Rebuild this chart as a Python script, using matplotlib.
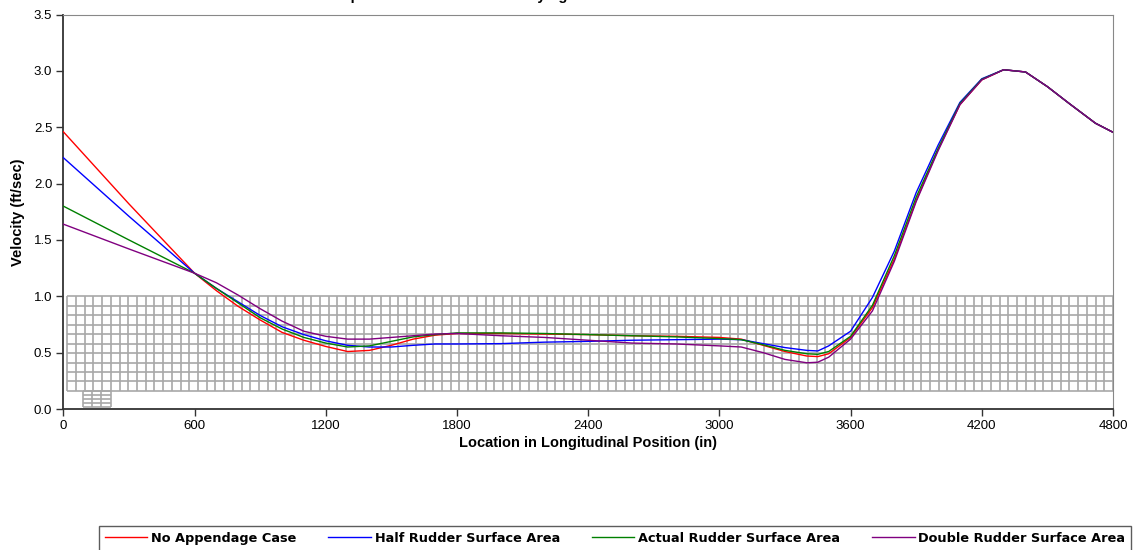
import matplotlib
matplotlib.use("Agg")
import matplotlib.pyplot as plt
import numpy as np

# longitudinal location (in)
location = [0, 300, 600, 700, 800, 900, 1000, 1100, 1200, 1300, 1400, 1500, 1600, 1700,
            1800, 2000, 2200, 2400, 2600, 2800, 3000, 3100, 3200, 3300, 3400, 3450, 3500,
            3600, 3700, 3800, 3900, 4000, 4100, 4200, 4300, 4400, 4500, 4600, 4720, 4800]

# velocity (ft/sec) per case
no_appendage = [2.46, 1.82, 1.205, 1.05, 0.91, 0.79, 0.68, 0.61, 0.555, 0.51, 0.52, 0.565, 0.62, 0.655,
                0.67, 0.67, 0.665, 0.66, 0.65, 0.645, 0.635, 0.62, 0.565, 0.51, 0.47, 0.465, 0.49,
                0.635, 0.90, 1.33, 1.85, 2.30, 2.70, 2.92, 3.01, 2.99, 2.86, 2.71, 2.535, 2.455]
half_rudder = [2.23, 1.71, 1.205, 1.07, 0.95, 0.83, 0.73, 0.66, 0.605, 0.565, 0.55, 0.55, 0.565, 0.577,
               0.577, 0.58, 0.593, 0.60, 0.61, 0.615, 0.62, 0.615, 0.58, 0.545, 0.52, 0.515, 0.56,
               0.69, 0.99, 1.40, 1.92, 2.34, 2.72, 2.93, 3.01, 2.99, 2.86, 2.71, 2.535, 2.455]
actual_rudder = [1.80, 1.50, 1.205, 1.07, 0.94, 0.81, 0.71, 0.635, 0.585, 0.55, 0.56, 0.60, 0.64, 0.66,
                 0.675, 0.675, 0.67, 0.66, 0.65, 0.64, 0.625, 0.615, 0.57, 0.52, 0.49, 0.485, 0.51,
                 0.645, 0.92, 1.36, 1.88, 2.31, 2.71, 2.925, 3.01, 2.99, 2.86, 2.71, 2.535, 2.455]
double_rudder = [1.64, 1.42, 1.205, 1.12, 1.01, 0.89, 0.78, 0.69, 0.645, 0.62, 0.62, 0.635, 0.65, 0.665,
                 0.67, 0.65, 0.635, 0.61, 0.585, 0.577, 0.56, 0.55, 0.50, 0.44, 0.41, 0.415, 0.46,
                 0.62, 0.87, 1.31, 1.84, 2.29, 2.70, 2.92, 3.01, 2.99, 2.86, 2.71, 2.535, 2.455]

series_names = ["No Appendage Case", "Half Rudder Surface Area",
                "Actual Rudder Surface Area", "Double Rudder Surface Area"]
series_colors = ["#ff0000", "#0000ff", "#008000", "#800080"]

x_ticks = [0, 600, 1200, 1800, 2400, 3000, 3600, 4200, 4800]
y_ticks = [0.0, 0.5, 1.0, 1.5, 2.0, 2.5, 3.0, 3.5]

plt.rcParams["font.family"] = ["Liberation Sans", "DejaVu Sans"]

fig = plt.figure(figsize=(11.37, 5.5), dpi=100)
ax = fig.add_axes([63.3 / 1137, 1 - 409 / 550, (1113 - 63.3) / 1137, (409 - 14.5) / 550])

# stray table-like grid sitting behind the lines
gx = np.linspace(18, 4800, 121)
gy = np.linspace(0.16, 1.0, 11)
ax.vlines(gx, gy[0], gy[-1], color="#a8a8a8", lw=1.2, zorder=1)
ax.hlines(gy, gx[0], gx[-1], color="#a8a8a8", lw=1.2, zorder=1)
sx = np.linspace(91, 216, 4)
sy = np.linspace(0.018, 0.16, 5)
ax.vlines(sx, sy[0], sy[-1], color="#a8a8a8", lw=1.2, zorder=1)
ax.hlines(sy, sx[0], sx[-1], color="#a8a8a8", lw=1.2, zorder=1)

for vals, name, col in zip([no_appendage, half_rudder, actual_rudder, double_rudder],
                           series_names, series_colors):
    ax.plot(location, vals, color=col, lw=1.0, label=name, zorder=3)

ax.set_xlim(0, 4800)
ax.set_ylim(0, 3.5)
ax.set_xticks(x_ticks)
ax.set_yticks(y_ticks)
ax.set_yticklabels(["%.1f" % v for v in y_ticks])
ax.tick_params(axis="both", direction="out", length=5, width=1, color="#333333",
               labelsize=9.5, pad=3)
ax.spines["left"].set_color("#333333")
ax.spines["bottom"].set_color("#333333")
ax.spines["left"].set_linewidth(1.3)
ax.spines["bottom"].set_linewidth(1.3)
ax.spines["top"].set_color("#888888")
ax.spines["right"].set_color("#888888")

ax.set_xlabel("Location in Longitudinal Position (in)", fontsize=10.5, fontweight="bold", labelpad=3)
ax.set_ylabel("Velocity (ft/sec)", fontsize=10.5, fontweight="bold", labelpad=6)

# title sits mostly above the visible area, as in the original
fig.text(318 / 1137, 1.0, "Comparison of Velocities at Varying Rudder Areas",
         fontsize=10.5, fontweight="bold", ha="left", va="baseline")

leg = fig.legend(loc="upper left", bbox_to_anchor=(99 / 1137, 1 - 526 / 550), ncol=4,
                 frameon=True, fancybox=False, edgecolor="#333333",
                 prop={"family": "DejaVu Sans", "weight": "bold", "size": 9.3},
                 handlelength=3.3, handletextpad=0.3, columnspacing=2.45,
                 borderpad=0.45, borderaxespad=0)
leg.get_frame().set_linewidth(1.0)

fig.savefig("out.png", dpi=100)
